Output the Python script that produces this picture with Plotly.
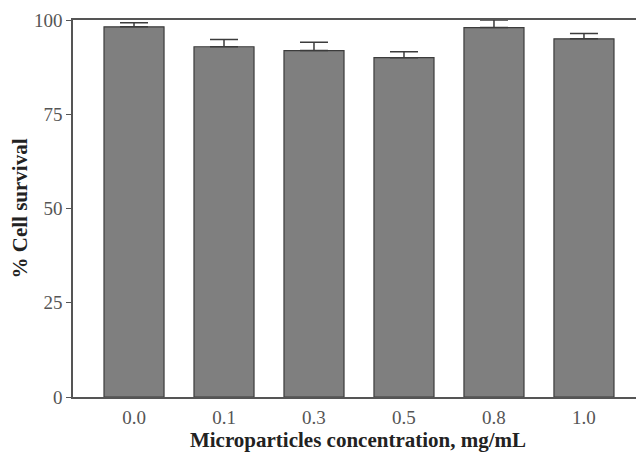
import plotly.graph_objects as go

categories = ["0.0", "0.1", "0.3", "0.5", "0.8", "1.0"]
survival = [98.2, 92.9, 91.9, 90.0, 98.0, 95.0]
err_up = [1.1, 1.9, 2.2, 1.6, 2.0, 1.4]
y_ticks = [0, 25, 50, 75, 100]

xpos = list(range(len(categories)))

fig = go.Figure()
fig.add_trace(go.Bar(
    x=xpos, y=survival, width=0.667,
    marker=dict(color="#7f7f7f", line=dict(color="#3c3c3c", width=1.2)),
    error_y=dict(type="data", array=err_up, arrayminus=[0]*len(err_up), symmetric=False,
                 color="#3c3c3c", thickness=1.5, width=14),
))

fig.update_layout(
    width=636, height=445,
    margin=dict(l=65, r=1, t=12, b=56),
    paper_bgcolor="white", plot_bgcolor="white",
    font=dict(family="Liberation Serif", size=19, color="#555555"),
    showlegend=False,
    xaxis=dict(
        tickmode="array", tickvals=xpos, ticktext=categories,
        range=[-0.678, 5.656], showgrid=False, zeroline=False,
        showline=True, linecolor="#555555", linewidth=1.5, mirror=True,
        ticks="", ticklabelstandoff=2, automargin=False,
        title=dict(text="<b>Microparticles concentration, mg/mL</b>",
                   font=dict(family="Liberation Serif", size=21, color="#222222"), standoff=2),
    ),
    yaxis=dict(
        tickmode="array", tickvals=y_ticks, range=[0, 100],
        showgrid=False, zeroline=False, automargin=False,
        showline=True, linecolor="#555555", linewidth=1.5, mirror=True,
        ticks="outside", ticklen=5, tickcolor="#555555", ticklabelstandoff=0,
        title=dict(text="<b>% Cell survival</b>",
                   font=dict(family="Liberation Serif", size=21, color="#222222"), standoff=13),
    ),
)

fig.write_html("out.html")
